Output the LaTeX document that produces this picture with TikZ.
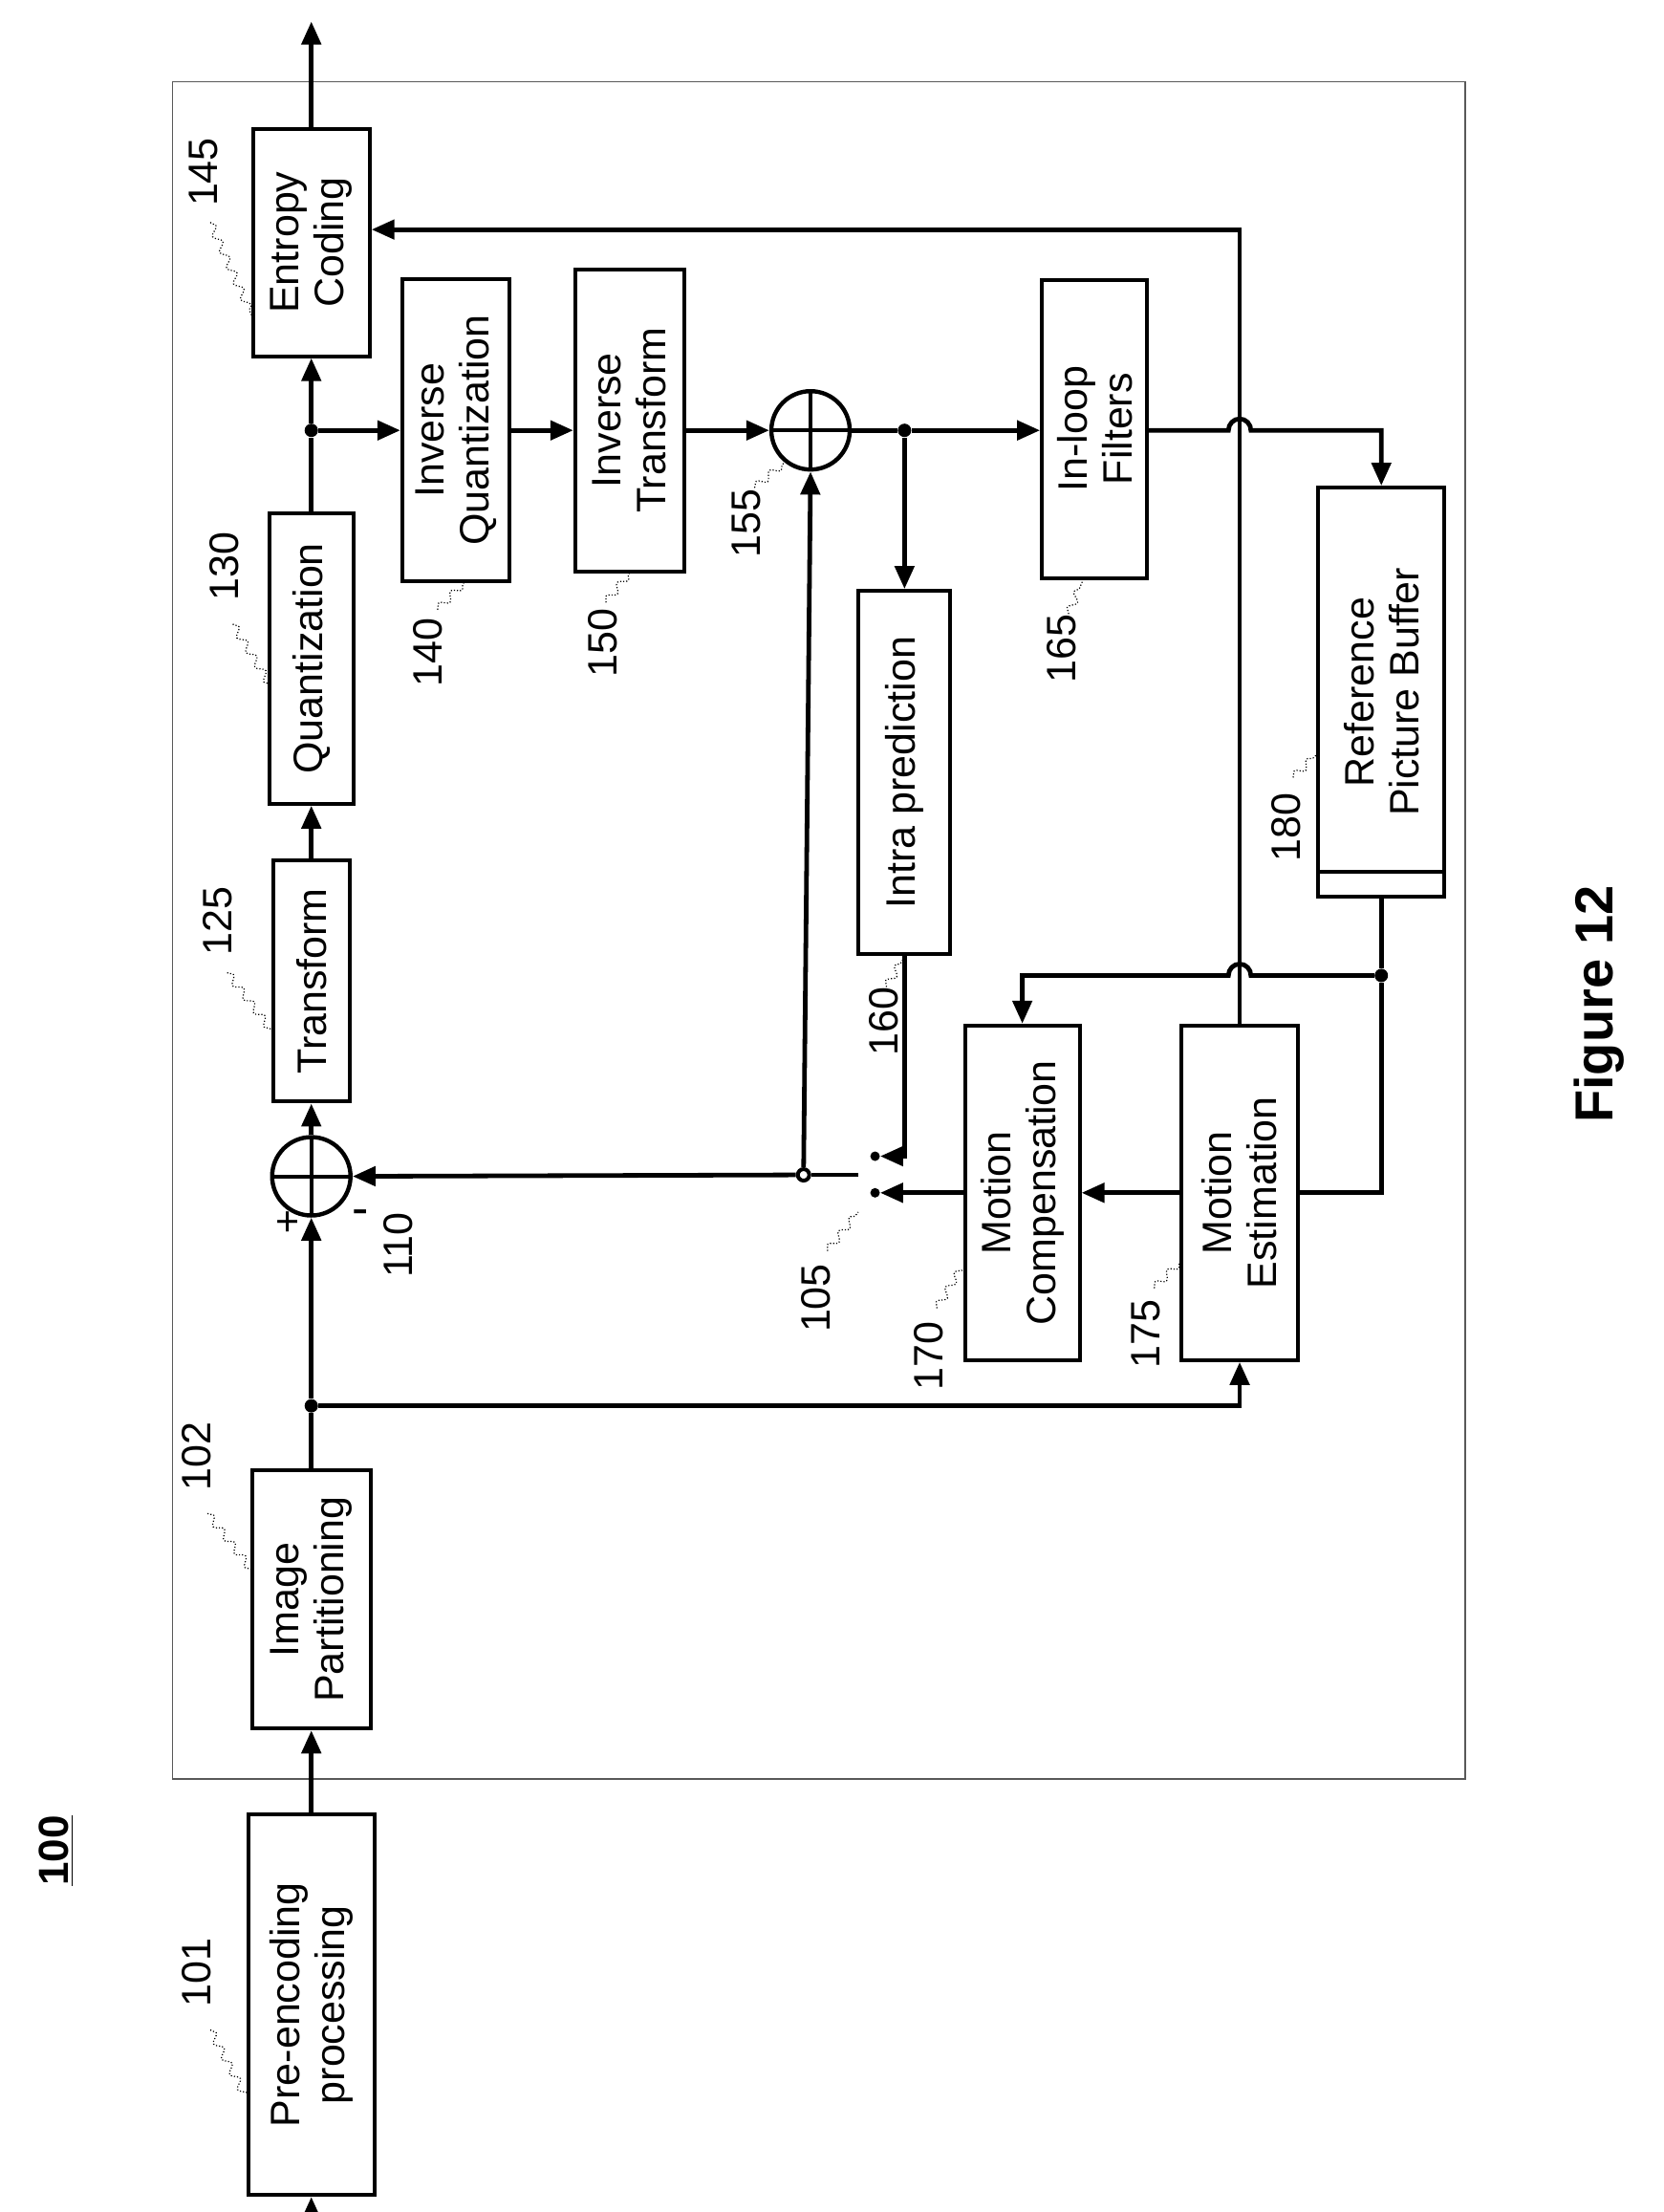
\documentclass[tikz,border=0pt]{standalone}
\usepackage{fontspec}
\setmainfont{Liberation Sans}
\usetikzlibrary{arrows.meta,decorations.pathmorphing}
\begin{document}
\begin{tikzpicture}[x=0.7336pt,y=-0.7503pt,
  font=\fontsize{21.5}{23.5}\selectfont,
  box/.style={draw,line width=2pt,rotate=90,align=center,inner sep=0pt},
  sum/.style={draw,circle,line width=2.2pt,minimum size=41pt,inner sep=0pt,
    path picture={\draw[line width=2pt] (path picture bounding box.north) -- (path picture bounding box.south)
      (path picture bounding box.west) -- (path picture bounding box.east);}},
  ln/.style={line width=2.4pt},
  ar/.style={line width=2.4pt,-{Triangle[length=12pt,width=10pt]}},
  dot/.style={circle,fill,inner sep=0pt,minimum size=7pt},
  cnt/.style={circle,fill,inner sep=0pt,minimum size=5pt},
  lbl/.style={rotate=90},
  lead/.style={densely dotted,line width=0.6pt,decorate,decoration={snake,amplitude=2pt,segment length=9pt}}]
\useasboundingbox (0,0) rectangle (1186,1542);
\draw[line width=0.8pt,gray!70!black] (123,57) rectangle (1045,1240);
% boxes
\node[box,minimum width=199pt,minimum height=66pt] (pre) at (222,1397.5) {Pre-encoding\\processing};
\node[box,minimum width=135pt,minimum height=62pt] (ip) at (222,1115) {Image\\Partitioning};
\node[box,minimum width=126pt,minimum height=40pt] (tr) at (222,684) {Transform};
\node[box,minimum width=152pt,minimum height=44pt] (qu) at (222,459) {Quantization};
\node[box,minimum width=119pt,minimum height=61pt] (ec) at (222,169) {Entropy\\Coding};
\node[box,minimum width=158pt,minimum height=56pt] (iq) at (325,300) {Inverse\\Quantization};
\node[box,minimum width=158pt,minimum height=57pt] (it) at (449,293) {Inverse\\Transform};
\node[box,minimum width=156pt,minimum height=55pt] (ilf) at (780.5,299) {In-loop\\Filters};
\node[box,minimum width=214pt,minimum height=66pt] (rpb) at (985,482.5) {Reference\\Picture Buffer};
\draw[line width=2pt] (940,608) -- (1030,608);
\node[box,minimum width=190pt,minimum height=48pt] (intra) at (645,538.5) {Intra prediction};
\node[box,minimum width=175pt,minimum height=60pt] (mc) at (729,831.5) {Motion\\Compensation};
\node[box,minimum width=175pt,minimum height=61pt] (me) at (884,831.5) {Motion\\Estimation};
\node[sum] (s110) at (222,820) {};
\node[sum] (s155) at (578,300) {};
% coordinates
\coordinate (in) at (222,1542);
\coordinate (out) at (222,15);
\node[dot] (j1) at (222,980) {};
\node[dot] (j2) at (222,300) {};
\node[dot] (j3) at (645,300) {};
\node[dot] (j4) at (985,680) {};
\node[dot,fill=white,draw,line width=2pt,minimum size=6pt] (j5) at (573,819) {};
\coordinate (swend) at (612,819);
\node[cnt] (ca) at (624,806) {};
\node[cnt] (cb) at (624,831.5) {};
% main path
\draw[ar] (in) -- (pre.west);
\draw[ar] (pre.east) -- (ip.west);
\draw[ln] (ip.east) -- (j1);
\draw[ar] (j1) -- (s110.south);
\draw[ar] (s110.north) -- (tr.west);
\draw[ar] (tr.east) -- (qu.west);
\draw[ln] (qu.east) -- (j2);
\draw[ar] (j2) -- (ec.west);
\draw[ar] (ec.east) -- (out);
\draw[ar] (j2) -- (iq.north);
\draw[ar] (iq.south) -- (iq.south -| it.north);
\draw[ar] (it.south |- s155.west) -- (s155.west);
\draw[ln] (s155.east) -- (j3);
\draw[ar] (j3) -- (j3 -| ilf.north);
\draw[ar] (j3) -- (intra.east);
\draw[ar] (ilf.south |- j3) -- (876,300) arc[start angle=180,end angle=360,x radius=8,y radius=8] -- (985,300) -- (rpb.east);
\draw[ln] (rpb.west) -- (j4);
\draw[ln] (j4) -- (985,831.5) -- (me.south);
\draw[ar] (j4) -- (892,680) arc[start angle=0,end angle=-180,x radius=8,y radius=8] -- (729,680) -- (mc.east);
\draw[ar] (me.north) -- (mc.south);
\draw[ar] (mc.north) -- (cb);
\draw[ar] (me.east) -- (884,160) -- (ec.south |- 0,160);
\draw[ar] (j1) -- (884,980) -- (me.west);
\draw[ln] (swend) -- (j5);
\draw[ar] (j5) -- (s110.east);
\draw[ar] (j5) -- (s155.south);
\draw[ar] (intra.west) -- (645,806) -- (ca);
% signs
\node at (205,853) {+};
\node[font=\fontsize{26}{28}\selectfont] at (257,849) {-};
% labels
\node[lbl] at (140,1375) {101};
\draw[lead] (150,1415) -- (177,1465);
\node[lbl] at (140,1015) {102};
\draw[lead] (148,1055) -- (180,1095);
\node[lbl] at (155,642) {125};
\draw[lead] (162,678) -- (195,720);
\node[lbl] at (160,395) {130};
\draw[lead] (166,435) -- (193,478);
\node[lbl] at (145,120) {145};
\draw[lead] (150,155) -- (180,221);
\node[lbl] at (305,455) {140};
\draw[lead] (312,425) -- (332,405);
\node[lbl] at (430,448) {150};
\draw[lead] (432,420) -- (450,398);
\node[lbl] at (532,365) {155};
\draw[lead] (538,340) -- (560,322);
\node[lbl] at (630,712) {160};
\draw[lead] (632,688) -- (645,667);
\node[lbl] at (757,452) {165};
\draw[lead] (762,428) -- (772,405);
\node[lbl] at (662,945) {170};
\draw[lead] (668,912) -- (688,880);
\node[lbl] at (817,930) {175};
\draw[lead] (823,898) -- (843,878);
\node[lbl] at (582,905) {105};
\draw[lead] (590,872) -- (612,845);
\node[lbl] at (284,868) {110};
\node[lbl] at (917,577) {180};
\draw[lead] (922,542) -- (940,525);
\node[lbl,font=\fontsize{28}{30}\selectfont\bfseries] at (1140,700) {Figure 12};
\node[lbl,font=\fontsize{22}{24}\selectfont\bfseries] at (40,1290) {\underline{100}};
\end{tikzpicture}
\end{document}
